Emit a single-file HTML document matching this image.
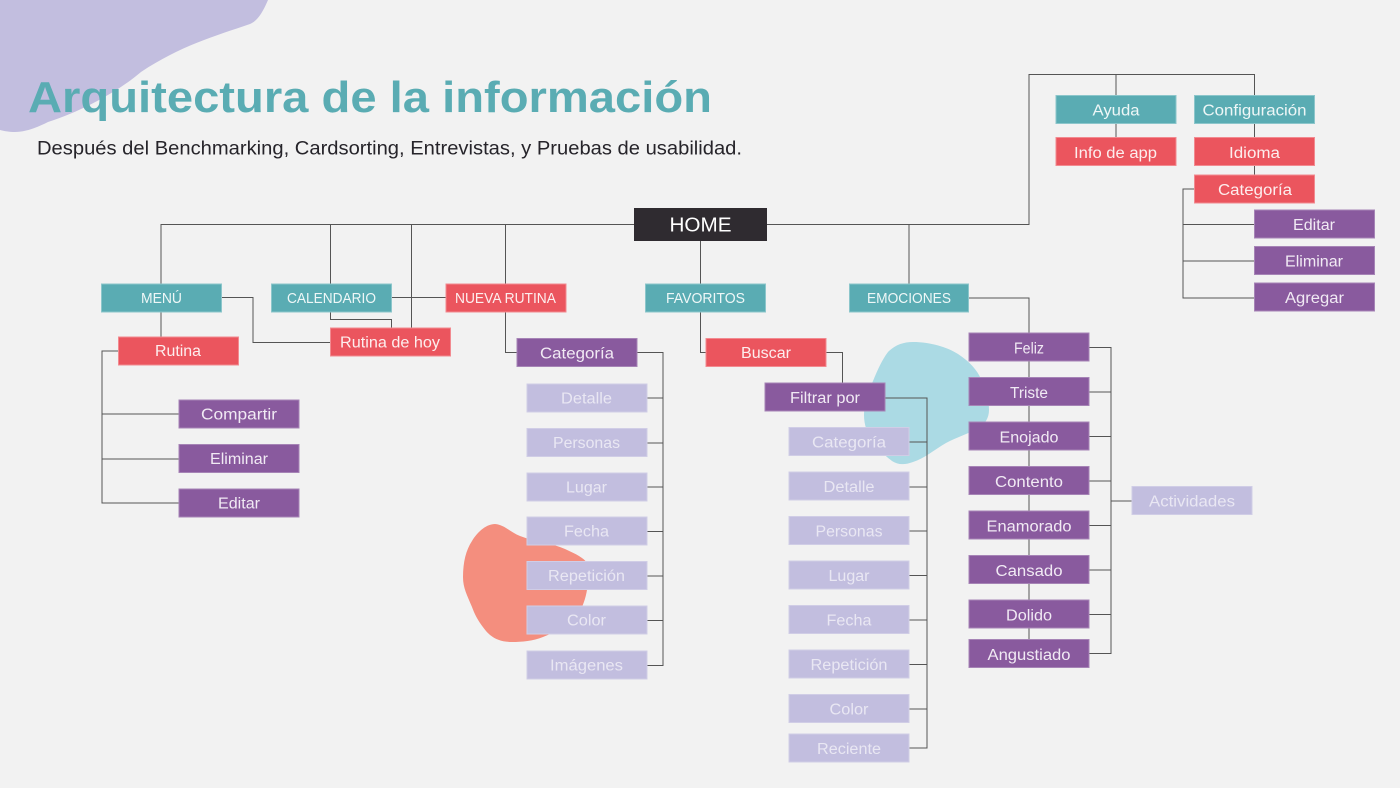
<!DOCTYPE html>
<html lang="es"><head><meta charset="utf-8"><title>Arquitectura de la información</title>
<style>
html,body{margin:0;padding:0;background:#f2f2f2}
svg{display:block}
text{font-family:"Liberation Sans",sans-serif;font-size:15.5px;text-anchor:middle}
.u{font-size:14.5px}
.t rect{fill:#5aacb3;stroke:#8cc6cb}.t text{fill:#eef7f7}
.r rect{fill:#eb555e;stroke:#f28a90}.r text{fill:#fdeeee}
.p rect{fill:#895a9e;stroke:#a684b6}.p text{fill:#f1eaf4}
.l rect{fill:#c2bedf;stroke:#d0cde6}.l text{fill:#e9e7f3}
</style></head><body>
<svg width="1400" height="788" viewBox="0 0 1400 788" xmlns="http://www.w3.org/2000/svg">
<rect width="1400" height="788" fill="#f2f2f2"/>
<path d="M0 0H268C262 14 257 21 250 24C215 36 180 46 141 72C120 90 85 110 48 122C36 128 25 132 15 132C9 132 4 131 0 130Z" fill="#c2bedf"/>
<path d="M913 342C930 342 947 347 958 354C970 362 977 370 981 379C986 390 989 399 989 410C989 418 985 424 979 428C968 434 957 437 946 443C934 450 925 458 913 462C905 465 898 465 892 461C884 455 878 449 873 441C867 433 864 425 864 415C864 402 868 392 873 381C878 369 882 360 888 352C895 345 903 342 913 342Z" fill="#abdae4"/>
<path d="M495 524C505 525 510 532 520 536C535 542 552 543 565 549C576 554 584 558 587 563C589 580 588 593 582 607C575 622 558 631 543 637C533 641 522 642 512 642C500 642 492 638 486 631C478 621 475 615 472 607C467 595 463 588 463 577C463 562 466 550 472 541C478 531 487 524 495 524Z" fill="#f48e7e"/>

<g fill="none" stroke="#555" stroke-width="1">
<path d="M161 337V224.5H1029V74.5H1254.5V175"/>
<path d="M1116 74.5V137"/>
<path d="M330.5 224.5V319.5H391.5V328"/>
<path d="M411.5 224.5V328"/>
<path d="M505.5 224.5V352.5H517"/>
<path d="M700.5 241V352.5H706"/>
<path d="M909 224.5V284"/>
<path d="M391 297.5H446"/>
<path d="M221 297.5H253V342.5H331"/>
<path d="M118 351H102V503H179M102 414H179M102 459H179"/>
<path d="M637 352.5H663V665.5H647M647 398H663M647 443H663M647 487H663M647 531.5H663M647 576H663M647 620.5H663"/>
<path d="M826 352.5H842.5V383"/>
<path d="M885 398H927V748H909M909 442H927M909 487H927M909 531H927M909 575.5H927M909 620H927M909 664.5H927M909 709H927"/>
<path d="M969 298H1029V640"/>
<path d="M1089 347.5H1111V653.5H1089M1089 392H1111M1089 436.5H1111M1089 481H1111M1089 525.5H1111M1089 570H1111M1089 614.5H1111M1111 501H1132"/>
<path d="M1194.5 189H1183V298H1254.5M1183 224.5H1254.5M1183 261H1254.5"/>
</g>

<text x="370" y="112" textLength="684" lengthAdjust="spacingAndGlyphs" style="font-size:43.5px;font-weight:700;fill:#5aacb3">Arquitectura de la información</text>
<text x="389.5" y="154.500" textLength="705" lengthAdjust="spacingAndGlyphs" style="font-size:19px;fill:#26242a">Después del Benchmarking, Cardsorting, Entrevistas, y Pruebas de usabilidad.</text>

<rect x="634" y="208" width="133" height="33" fill="#2f2b30"/>
<text x="700.5" y="231.500" textLength="62" lengthAdjust="spacingAndGlyphs" style="font-size:20px;fill:#fff">HOME</text>

<g class="t">
<rect x="101.500" y="284" width="120" height="28"/><text class="u" x="161.500" y="303" textLength="41" lengthAdjust="spacingAndGlyphs">MENÚ</text>
<rect x="271.500" y="284" width="120" height="28"/><text class="u" x="331.500" y="303" textLength="89" lengthAdjust="spacingAndGlyphs">CALENDARIO</text>
<rect x="645.500" y="284" width="120" height="28"/><text class="u" x="705.500" y="303" textLength="79" lengthAdjust="spacingAndGlyphs">FAVORITOS</text>
<rect x="849.500" y="284" width="119" height="28"/><text class="u" x="909" y="303" textLength="84" lengthAdjust="spacingAndGlyphs">EMOCIONES</text>
<rect x="1056" y="95.500" width="120" height="28"/><text x="1116" y="115.500" textLength="47" lengthAdjust="spacingAndGlyphs">Ayuda</text>
<rect x="1194.500" y="95.500" width="120" height="28"/><text x="1254.500" y="115.500" textLength="104" lengthAdjust="spacingAndGlyphs">Configuración</text>
</g>

<g class="r">
<rect x="446" y="284" width="120" height="28"/><text class="u" x="505.500" y="303" textLength="101" lengthAdjust="spacingAndGlyphs">NUEVA RUTINA</text>
<rect x="118.500" y="337" width="120" height="28"/><text x="178" y="356" textLength="46" lengthAdjust="spacingAndGlyphs">Rutina</text>
<rect x="330.500" y="328" width="120" height="28"/><text x="390" y="347.500" textLength="100" lengthAdjust="spacingAndGlyphs">Rutina de hoy</text>
<rect x="706" y="338.500" width="120" height="28"/><text x="766" y="358" textLength="50" lengthAdjust="spacingAndGlyphs">Buscar</text>
<rect x="1056" y="137.500" width="120" height="28"/><text x="1115.500" y="158" textLength="83" lengthAdjust="spacingAndGlyphs">Info de app</text>
<rect x="1194.500" y="137.500" width="120" height="28"/><text x="1254.500" y="158" textLength="51" lengthAdjust="spacingAndGlyphs">Idioma</text>
<rect x="1194.500" y="175" width="120" height="28"/><text x="1255" y="195" textLength="74" lengthAdjust="spacingAndGlyphs">Categoría</text>
</g>

<g class="p">
<rect x="517" y="338.500" width="120" height="28"/><text x="577" y="358.500" textLength="74" lengthAdjust="spacingAndGlyphs">Categoría</text>
<rect x="765" y="383" width="120" height="28"/><text x="825" y="403" textLength="70" lengthAdjust="spacingAndGlyphs">Filtrar por</text>
<rect x="179" y="400" width="120" height="28"/><text x="239" y="419.500" textLength="76" lengthAdjust="spacingAndGlyphs">Compartir</text>
<rect x="179" y="444.500" width="120" height="28"/><text x="239" y="464" textLength="58" lengthAdjust="spacingAndGlyphs">Eliminar</text>
<rect x="179" y="489" width="120" height="28"/><text x="239" y="508.500" textLength="42" lengthAdjust="spacingAndGlyphs">Editar</text>
<rect x="969" y="333" width="120" height="28"/><text x="1029" y="353.500" textLength="30" lengthAdjust="spacingAndGlyphs">Feliz</text>
<rect x="969" y="377.500" width="120" height="28"/><text x="1029" y="398" textLength="38" lengthAdjust="spacingAndGlyphs">Triste</text>
<rect x="969" y="422" width="120" height="28"/><text x="1029" y="442.500" textLength="59" lengthAdjust="spacingAndGlyphs">Enojado</text>
<rect x="969" y="466.500" width="120" height="28"/><text x="1029" y="487" textLength="68" lengthAdjust="spacingAndGlyphs">Contento</text>
<rect x="969" y="511" width="120" height="28"/><text x="1029" y="531.500" textLength="85" lengthAdjust="spacingAndGlyphs">Enamorado</text>
<rect x="969" y="555.500" width="120" height="28"/><text x="1029" y="576" textLength="67" lengthAdjust="spacingAndGlyphs">Cansado</text>
<rect x="969" y="600" width="120" height="28"/><text x="1029" y="620.500" textLength="46" lengthAdjust="spacingAndGlyphs">Dolido</text>
<rect x="969" y="639.500" width="120" height="28"/><text x="1029" y="660" textLength="83" lengthAdjust="spacingAndGlyphs">Angustiado</text>
<rect x="1254.500" y="210" width="120" height="28"/><text x="1314" y="230" textLength="42" lengthAdjust="spacingAndGlyphs">Editar</text>
<rect x="1254.500" y="246.500" width="120" height="28"/><text x="1314" y="266.500" textLength="58" lengthAdjust="spacingAndGlyphs">Eliminar</text>
<rect x="1254.500" y="283" width="120" height="28"/><text x="1314.500" y="303" textLength="59" lengthAdjust="spacingAndGlyphs">Agregar</text>
</g>

<g class="l">
<rect x="527" y="384" width="120" height="28"/><text x="586.500" y="403.500" textLength="51" lengthAdjust="spacingAndGlyphs">Detalle</text>
<rect x="527" y="428.500" width="120" height="28"/><text x="586.500" y="448" textLength="67" lengthAdjust="spacingAndGlyphs">Personas</text>
<rect x="527" y="473" width="120" height="28"/><text x="586.500" y="492.500" textLength="41" lengthAdjust="spacingAndGlyphs">Lugar</text>
<rect x="527" y="517" width="120" height="28"/><text x="586.500" y="536.500" textLength="45" lengthAdjust="spacingAndGlyphs">Fecha</text>
<rect x="527" y="561.500" width="120" height="28"/><text x="586.500" y="581" textLength="77" lengthAdjust="spacingAndGlyphs">Repetición</text>
<rect x="527" y="606" width="120" height="28"/><text x="586.500" y="625.500" textLength="39" lengthAdjust="spacingAndGlyphs">Color</text>
<rect x="527" y="651" width="120" height="28"/><text x="586.500" y="670.500" textLength="73" lengthAdjust="spacingAndGlyphs">Imágenes</text>
<rect x="789" y="427.500" width="120" height="28"/><text x="849" y="447.500" textLength="74" lengthAdjust="spacingAndGlyphs">Categoría</text>
<rect x="789" y="472" width="120" height="28"/><text x="849" y="492" textLength="51" lengthAdjust="spacingAndGlyphs">Detalle</text>
<rect x="789" y="516.500" width="120" height="28"/><text x="849" y="536.500" textLength="67" lengthAdjust="spacingAndGlyphs">Personas</text>
<rect x="789" y="561" width="120" height="28"/><text x="849" y="581" textLength="41" lengthAdjust="spacingAndGlyphs">Lugar</text>
<rect x="789" y="605.500" width="120" height="28"/><text x="849" y="625.500" textLength="45" lengthAdjust="spacingAndGlyphs">Fecha</text>
<rect x="789" y="650" width="120" height="28"/><text x="849" y="670" textLength="77" lengthAdjust="spacingAndGlyphs">Repetición</text>
<rect x="789" y="694.500" width="120" height="28"/><text x="849" y="714.500" textLength="39" lengthAdjust="spacingAndGlyphs">Color</text>
<rect x="789" y="734" width="120" height="28"/><text x="849" y="754" textLength="64" lengthAdjust="spacingAndGlyphs">Reciente</text>
<rect x="1132" y="486.500" width="120" height="28"/><text x="1192" y="506.500" textLength="86" lengthAdjust="spacingAndGlyphs">Actividades</text>
</g>
</svg>
</body></html>
